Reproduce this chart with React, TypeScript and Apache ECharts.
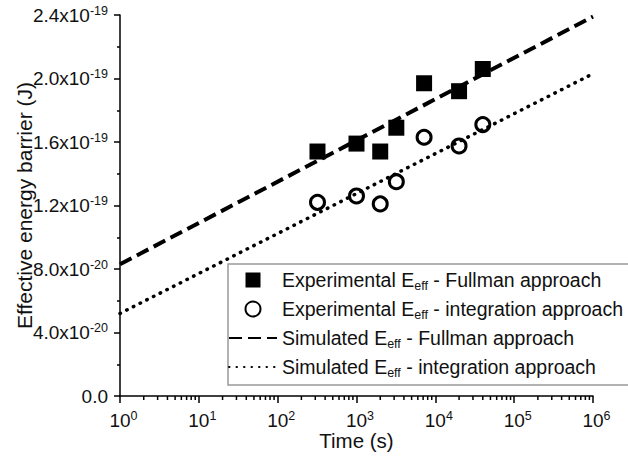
import React, { useEffect, useRef } from "react";
import * as echarts from "echarts";

// Annealing times (s)
const times = [320, 1000, 2000, 3200, 7200, 20000, 40000];
// Effective energy barrier, in units of 1e-20 J
const fullmanExperimental = [15.4, 15.9, 15.4, 16.9, 19.7, 19.2, 20.6];
const integrationExperimental = [12.2, 12.6, 12.1, 13.5, 16.3, 15.75, 17.1];
// Simulated trends (straight in log time): end points at 1 s and 1e6 s
const simTimes = [1, 1e6];
const fullmanSimulated = [8.3, 23.9];
const integrationSimulated = [5.2, 20.3];

// y tick labels: mantissa part and exponent part
const yTickValues = [0, 4, 8, 12, 16, 20, 24];
const yTickMantissas = ["0.0", "4.0x10", "8.0x10", "1.2x10", "1.6x10", "2.0x10", "2.4x10"];
const yTickExponents = ["", "-20", "-20", "-19", "-19", "-19", "-19"];

// x decades
const xDecadeExponents = [0, 1, 2, 3, 4, 5, 6];

// Legend entries split around the subscript
const legendPrefixes = ["Experimental E", "Experimental E", "Simulated E", "Simulated E"];
const legendSubs = ["eff", "eff", "eff", "eff"];
const legendSuffixes = [
  " - Fullman approach",
  " - integration approach",
  " - Fullman approach",
  " - integration approach",
];
const seriesNames = legendPrefixes.map((p, i) => p + legendSubs[i] + legendSuffixes[i]);

const FONT = "'Liberation Sans', Arial, Helvetica, sans-serif";
const INK = "#111";
const SQUARE_ICON = "path://M0,0L10,0L10,10L0,10Z";

// minor tick positions on the log axis (2..9 within each decade)
const minorTickValues: number[] = [];
for (let d = 0; d < 6; d++) {
  for (let k = 2; k <= 9; k++) minorTickValues.push(k * Math.pow(10, d));
}

export default function App() {
  const ref = useRef<HTMLDivElement>(null);

  useEffect(() => {
    document.body.style.margin = "0";
    const chart = echarts.init(ref.current!, undefined, { renderer: "svg" });

    const hiddenMarker = { color: "rgba(0,0,0,0)", borderWidth: 0, opacity: 0 };

    const option: any = {
      animation: false,
      textStyle: { fontFamily: FONT },
      grid: { left: 120, right: 35, top: 15, bottom: 66, containLabel: false },
      xAxis: {
        type: "log",
        logBase: 10,
        min: 1,
        max: 1e6,
        splitNumber: 6,
        name: "Time (s)",
        nameLocation: "middle",
        nameGap: 34,
        nameMoveOverlap: false,
        nameTextStyle: { fontSize: 20.5, color: INK, fontFamily: FONT },
        axisLine: { show: true, onZero: false, lineStyle: { color: "#000", width: 1.5 } },
        axisTick: { show: true, inside: false, length: 7, lineStyle: { color: "#000", width: 1.5 } },
        minorTick: { show: false },
        splitLine: { show: false },
        axisLabel: {
          margin: 13,
          color: INK,
          fontSize: 19,
          fontFamily: FONT,
          formatter: (v: number) => {
            const e = Math.round(Math.log10(v));
            const idx = xDecadeExponents.indexOf(e);
            return `{b|10}{s|${xDecadeExponents[idx]}}`;
          },
          rich: {
            b: { fontSize: 19, lineHeight: 22, fontFamily: FONT, color: INK, padding: [0, 0, 0, 7], verticalAlign: "middle" },
            s: { fontSize: 12.5, lineHeight: 13, fontFamily: FONT, color: INK, verticalAlign: "top" },
          },
        },
      },
      yAxis: {
        type: "value",
        min: 0,
        max: 24,
        interval: 4,
        name: "Effective energy barrier (J)",
        nameLocation: "middle",
        nameRotate: 90,
        nameGap: 85,
        nameMoveOverlap: false,
        nameTextStyle: { fontSize: 21, color: INK, fontFamily: FONT },
        axisLine: { show: true, onZero: false, lineStyle: { color: "#000", width: 1.5 } },
        axisTick: { show: true, inside: false, length: 6, lineStyle: { color: "#000", width: 1.5 } },
        minorTick: { show: true, splitNumber: 2, length: 3, lineStyle: { color: "#000", width: 1.5 } },
        splitLine: { show: false },
        axisLabel: {
          margin: 12,
          color: INK,
          fontSize: 19,
          fontFamily: FONT,
          formatter: (v: number) => {
            const idx = yTickValues.findIndex((t) => Math.abs(t - v) < 1e-6);
            if (idx < 0) return "";
            const m = yTickMantissas[idx];
            const e = yTickExponents[idx];
            return e ? `{m|${m}}{s|${e}}` : `{m|${m}}`;
          },
          rich: {
            m: { fontSize: 19, lineHeight: 22, fontFamily: FONT, color: INK, verticalAlign: "middle" },
            s: { fontSize: 12.5, lineHeight: 13, fontFamily: FONT, color: INK, verticalAlign: "top" },
          },
        },
      },
      legend: {
        orient: "vertical",
        left: 228,
        top: 264,
        padding: [6, 14, 6, 0],
        itemWidth: 48,
        itemHeight: 15,
        itemGap: 7,
        borderColor: "#999",
        borderWidth: 1.5,
        selectedMode: false,
        symbolKeepAspect: true,
        data: [
          { name: seriesNames[0], icon: SQUARE_ICON },
          { name: seriesNames[1], icon: "circle" },
          { name: seriesNames[2], itemStyle: hiddenMarker },
          { name: seriesNames[3], itemStyle: hiddenMarker },
        ],
        formatter: (name: string) => {
          const i = seriesNames.indexOf(name);
          return `{a|${legendPrefixes[i]}}{e|${legendSubs[i]}}{a|${legendSuffixes[i]}}`;
        },
        textStyle: {
          color: INK,
          fontFamily: FONT,
          fontSize: 19.5,
          rich: {
            a: { fontSize: 19.5, lineHeight: 24, fontFamily: FONT, color: INK, verticalAlign: "middle" },
            e: { fontSize: 12.5, lineHeight: 7, fontFamily: FONT, color: INK, verticalAlign: "bottom" },
          },
        },
      },
      series: [
        {
          name: seriesNames[2],
          type: "line",
          data: simTimes.map((t, i) => [t, fullmanSimulated[i]]),
          symbol: "none",
          showSymbol: false,
          lineStyle: { color: "#000", width: 4, type: [13, 6], cap: "butt" },
          itemStyle: { color: "#000" },
          z: 2,
        },
        {
          name: seriesNames[3],
          type: "line",
          data: simTimes.map((t, i) => [t, integrationSimulated[i]]),
          symbol: "none",
          showSymbol: false,
          lineStyle: { color: "#000", width: 3.5, type: [0.5, 7], cap: "round" },
          itemStyle: { color: "#000" },
          z: 2,
        },
        {
          name: seriesNames[0],
          type: "scatter",
          data: times.map((t, i) => [t, fullmanExperimental[i]]),
          symbol: "rect",
          symbolSize: 16,
          itemStyle: { color: "#000", opacity: 1 },
          z: 3,
        },
        {
          name: seriesNames[1],
          type: "scatter",
          data: times.map((t, i) => [t, integrationExperimental[i]]),
          symbol: "circle",
          symbolSize: 14,
          itemStyle: { color: "rgba(0,0,0,0)", borderColor: "#000", borderWidth: 3, opacity: 1 },
          z: 3,
        },
        {
          // minor ticks of the logarithmic time axis
          type: "custom",
          silent: true,
          clip: false,
          data: minorTickValues.map((v) => [v, 0]),
          renderItem: (_params: any, api: any) => {
            const p = api.coord([api.value(0), api.value(1)]);
            return {
              type: "line",
              shape: { x1: p[0], y1: p[1], x2: p[0], y2: p[1] + 4 },
              style: { stroke: "#000", lineWidth: 1.5 },
            };
          },
          z: 1,
        },
      ],
    };

    chart.setOption(option);
    return () => chart.dispose();
  }, []);

  return (
    <div
      ref={ref}
      style={{ position: "fixed", left: 0, top: 0, width: 628, height: 462, background: "#fff" }}
    />
  );
}
